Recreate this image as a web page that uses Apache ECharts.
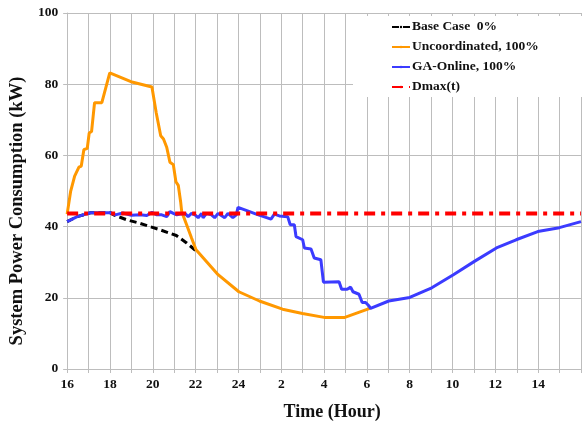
<!DOCTYPE html>
<html>
<head>
<meta charset="utf-8">
<script src="https://cdn.jsdelivr.net/npm/echarts@6/dist/echarts.min.js"></script>
<style>
html, body { margin: 0; padding: 0; background: #fff; }
#chart { width: 584px; height: 426px; }
</style>
</head>
<body>
<div id="chart"></div>
<script>
// time in hours, 16 -> 40 (40 = 16h next day)
var baseCase = [[16,41.4],[16.47,42.8],[17.09,43.9],[18.02,43.9],[18.17,43.3],[18.79,41.9],[19.41,40.9],[20.34,39.1],[21.1,37.5],[21.58,35.4],[22.04,33.1]];
var uncoordinated = [[16,43.5],[16.16,49.8],[16.35,54.2],[16.44,54.4],[16.55,56.7],[16.66,57],[16.78,61.6],[16.94,62],[17.03,66.3],[17.14,66.7],[17.28,74.8],[17.62,74.8],[17.99,83.2],[18.98,80.7],[19.96,79.2],[20.16,72],[20.37,65.5],[20.5,64.6],[20.65,62.3],[20.8,58.1],[20.96,57.4],[21.08,52.6],[21.19,51.6],[21.3,47],[21.35,44.2],[21.58,40.5],[21.81,36.8],[22.02,33.5],[23.05,26.5],[24.02,21.7],[24.98,19.1],[26.06,16.8],[26.99,15.6],[28,14.5],[28.97,14.5],[30.17,17.1]];
var gaOnline = [[16,41.4],[16.47,42.8],[17.09,43.9],[18.02,43.9],[18.25,43.3],[18.6,43.8],[19.0,43.2],[19.41,43.3],[19.72,43.1],[19.96,44.0],[20.19,43.3],[20.42,43.3],[20.65,42.8],[20.8,44.2],[20.96,43.7],[21.12,43.3],[21.27,43.5],[21.5,43.7],[21.65,42.8],[21.81,43.7],[21.97,43.3],[22.12,42.5],[22.28,43.7],[22.35,42.5],[22.51,43.7],[22.74,43.3],[22.89,42.5],[23.05,43.7],[23.2,43.1],[23.36,42.5],[23.51,43.7],[23.74,42.5],[23.9,43.3],[23.98,45.4],[24.52,44.2],[24.83,43.5],[25.52,42.1],[25.68,43.5],[25.91,43],[26.3,42.8],[26.42,40.5],[26.61,40.5],[26.69,37.2],[27,36.3],[27.08,34],[27.39,33.7],[27.54,31.2],[27.85,30.7],[27.97,24.4],[28.7,24.5],[28.82,22.4],[29.08,22.4],[29.24,23],[29.35,21.7],[29.63,21.0],[29.78,18.7],[29.94,18.7],[30.02,19.1],[30.1,17.7],[30.17,17],[31.02,19.1],[32,20.1],[33.03,22.8],[34.04,26.5],[35.04,30.3],[36.05,34],[36.97,36.3],[37.98,38.6],[38.99,39.7],[40,41.4]];
var dmax = [[16,43.7],[40,43.7]];

var font = '"Liberation Serif", "Times New Roman", serif';
var iconLine = 'path://M0,0h18v3h-18z';
var iconDash = 'path://M0,0h7v3h-7zM10,0h8v3h-8z';

var chart = echarts.init(document.getElementById('chart'));
chart.setOption({
	animation: false,
	backgroundColor: '#fff',
	grid: {left: 66, right: 1, top: 13, bottom: 54},
	legend: {
		orient: 'vertical',
		left: 353,
		top: 16,
		padding: [4, 44, 3, 38],
		itemGap: 6,
		itemWidth: 18,
		itemHeight: 3,
		backgroundColor: '#fff',
		textStyle: {fontFamily: font, fontWeight: 'bold', fontSize: 13.5, color: '#111', padding: [0, 0, 0, -3]},
		data: ['Base Case  0%', 'Uncoordinated, 100%', 'GA-Online, 100%', 'Dmax(t)']
	},
	xAxis: {
		type: 'value', min: 16, max: 40, interval: 1,
		name: 'Time (Hour)', nameLocation: 'middle', nameGap: 34,
		nameTextStyle: {fontFamily: font, fontWeight: 'bold', fontSize: 18, color: '#111', padding: [0, 0, 0, 16]},
		axisLine: {lineStyle: {color: '#bdbdbd'}},
		axisTick: {length: 4, lineStyle: {color: '#bdbdbd'}},
		splitLine: {lineStyle: {color: '#bdbdbd', width: 1}},
		axisLabel: {
			fontFamily: font, fontWeight: 'bold', fontSize: 13.5, color: '#111', margin: 9,
			formatter: function (v) {
				if (v % 2 !== 0 || v === 40) return '';
				return v > 24 ? String(v - 24) : String(v);
			}
		}
	},
	yAxis: {
		type: 'value', min: 0, max: 100, interval: 20,
		name: 'System Power Consumption (kW)', nameLocation: 'middle', nameGap: 38,
		nameTextStyle: {fontFamily: font, fontWeight: 'bold', fontSize: 18.5, color: '#111', padding: [0, 40, 0, 0]},
		axisLine: {show: true, lineStyle: {color: '#bdbdbd'}},
		axisTick: {show: true, length: 4, lineStyle: {color: '#bdbdbd'}},
		splitLine: {lineStyle: {color: '#bdbdbd', width: 1}},
		axisLabel: {fontFamily: font, fontWeight: 'bold', fontSize: 13.5, color: '#111', margin: 9}
	},
	series: [
		{name: 'Base Case  0%', type: 'line', data: baseCase, symbol: 'none', z: 2, legendIcon: iconDash,
			lineStyle: {color: '#000', width: 3, type: [7, 4]}, itemStyle: {color: '#000'}},
		{name: 'Uncoordinated, 100%', type: 'line', data: uncoordinated, symbol: 'none', z: 3, legendIcon: iconLine,
			lineStyle: {color: '#ff9800', width: 3}, itemStyle: {color: '#ff9800'}},
		{name: 'GA-Online, 100%', type: 'line', data: gaOnline, symbol: 'none', z: 4, legendIcon: iconLine,
			lineStyle: {color: '#3b3bff', width: 3}, itemStyle: {color: '#3b3bff'}},
		{name: 'Dmax(t)', type: 'line', data: dmax, symbol: 'none', z: 5, legendIcon: iconLine,
			lineStyle: {color: '#ff0000', width: 4, type: [11, 6, 4, 6]}, itemStyle: {color: '#ff0000'}}
	]
});
</script>
</body>
</html>
